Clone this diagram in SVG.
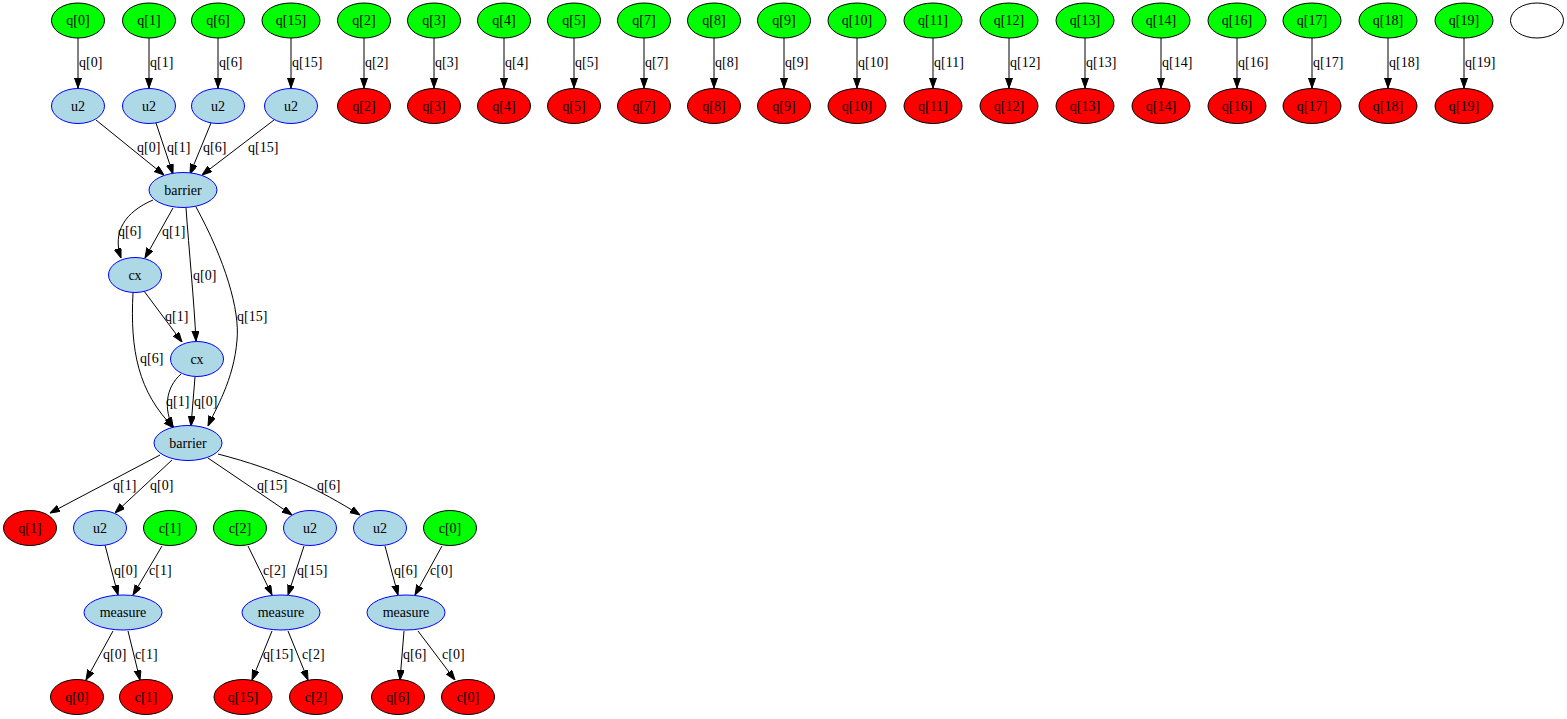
<svg xmlns="http://www.w3.org/2000/svg" width="1567" height="719" viewBox="0 0 1567 719">
<style>
text{font-family:"Liberation Serif","Times New Roman",serif;font-size:14px;fill:#000}
.n text{text-anchor:middle}
.in{fill:#00ff00;stroke:#000;stroke-width:1}
.out{fill:#ff0000;stroke:#000;stroke-width:1}
.op{fill:#add8e6;stroke:#0000ff;stroke-width:1}
.blank{fill:#fff;stroke:#000;stroke-width:1}
.e path{fill:none;stroke:#000;stroke-width:1;marker-end:url(#ah)}
</style>
<defs>
<marker id="ah" markerUnits="userSpaceOnUse" markerWidth="10" markerHeight="8" refX="10" refY="3.5" orient="auto">
<path d="M0,0 L10,3.5 L0,7 z" fill="#000" stroke="#000" stroke-width="1"/>
</marker>
</defs>
<rect width="1567" height="719" fill="#fff"/>
<g id="connectors" class="e">
<path d="M78,38 L78,88"/><text x="79" y="67">q[0]</text>
<path d="M149,38 L149,88"/><text x="150" y="67">q[1]</text>
<path d="M218,38 L218,88"/><text x="219" y="67">q[6]</text>
<path d="M291,38 L291,88"/><text x="292" y="67">q[15]</text>
<path d="M364,38 L364,88"/><text x="365" y="67">q[2]</text>
<path d="M434,38 L434,88"/><text x="435" y="67">q[3]</text>
<path d="M504,38 L504,88"/><text x="505" y="67">q[4]</text>
<path d="M574,38 L574,88"/><text x="575" y="67">q[5]</text>
<path d="M644,38 L644,88"/><text x="645" y="67">q[7]</text>
<path d="M714,38 L714,88"/><text x="715" y="67">q[8]</text>
<path d="M784,38 L784,88"/><text x="785" y="67">q[9]</text>
<path d="M857,38 L857,88"/><text x="858" y="67">q[10]</text>
<path d="M933,38 L933,88"/><text x="934" y="67">q[11]</text>
<path d="M1009,38 L1009,88"/><text x="1010" y="67">q[12]</text>
<path d="M1085,38 L1085,88"/><text x="1086" y="67">q[13]</text>
<path d="M1161,38 L1161,88"/><text x="1162" y="67">q[14]</text>
<path d="M1237,38 L1237,88"/><text x="1238" y="67">q[16]</text>
<path d="M1312,38 L1312,88"/><text x="1313" y="67">q[17]</text>
<path d="M1388,38 L1388,88"/><text x="1389" y="67">q[18]</text>
<path d="M1464,38 L1464,88"/><text x="1465" y="67">q[19]</text>

<path d="M96,120 L164,175"/><text x="137" y="152">q[0]</text>
<path d="M156,123 L173,174"/><text x="167" y="152">q[1]</text>
<path d="M211,123 L190,174"/><text x="203" y="152">q[6]</text>
<path d="M274,120 L202,175"/><text x="248" y="152">q[15]</text>

<path d="M153,200 C125,212 112,232 121,258"/><text x="118" y="236">q[6]</text>
<path d="M173,208 L145,258"/><text x="162" y="236">q[1]</text>
<path d="M186,208 C189,250 194,300 196,341"/><text x="193" y="280">q[0]</text>
<path d="M196,207 C225,260 240,310 237,340 C234,380 215,410 208,426"/><text x="237" y="321">q[15]</text>
<path d="M144,291 L182,342"/><text x="165" y="321">q[1]</text>
<path d="M133,293 C130,350 138,392 174,428"/><text x="140" y="363">q[6]</text>
<path d="M181,374 C165,388 164,410 173,427"/><text x="166" y="406">q[1]</text>
<path d="M195,377 L191,426"/><text x="194" y="406">q[0]</text>

<path d="M160,455 L50,513"/><text x="113" y="490">q[1]</text>
<path d="M172,460 L115,513"/><text x="150" y="490">q[0]</text>
<path d="M208,458 L292,515"/><text x="257" y="490">q[15]</text>
<path d="M218,454 C280,470 320,490 360,515"/><text x="317" y="490">q[6]</text>

<path d="M105,545 L118,595"/><text x="114" y="575">q[0]</text>
<path d="M162,546 L133,595"/><text x="149" y="575">c[1]</text>
<path d="M248,546 L272,595"/><text x="263" y="575">c[2]</text>
<path d="M304,546 L288,595"/><text x="297" y="575">q[15]</text>
<path d="M385,546 L398,595"/><text x="394" y="575">q[6]</text>
<path d="M442,546 L415,595"/><text x="430" y="575">c[0]</text>

<path d="M113,631 L86,680"/><text x="103" y="659">q[0]</text>
<path d="M128,631 L140,680"/><text x="135" y="659">c[1]</text>
<path d="M272,631 L252,680"/><text x="263" y="659">q[15]</text>
<path d="M288,631 L308,680"/><text x="302" y="659">c[2]</text>
<path d="M404,631 L400,680"/><text x="403" y="659">q[6]</text>
<path d="M418,631 L455,680"/><text x="442" y="659">c[0]</text>
</g>

<g id="in_q0" class="n"><ellipse class="in" cx="78" cy="20.5" rx="26.5" ry="17.5"/><text x="78" y="25">q[0]</text></g>
<g id="in_q1" class="n"><ellipse class="in" cx="149" cy="20.5" rx="26.5" ry="17.5"/><text x="149" y="25">q[1]</text></g>
<g id="in_q6" class="n"><ellipse class="in" cx="218" cy="20.5" rx="26.5" ry="17.5"/><text x="218" y="25">q[6]</text></g>
<g id="in_q15" class="n"><ellipse class="in" cx="291" cy="20.5" rx="29" ry="17.5"/><text x="291" y="25">q[15]</text></g>
<g id="in_q2" class="n"><ellipse class="in" cx="364" cy="20.5" rx="26.5" ry="17.5"/><text x="364" y="25">q[2]</text></g>
<g id="in_q3" class="n"><ellipse class="in" cx="434" cy="20.5" rx="26.5" ry="17.5"/><text x="434" y="25">q[3]</text></g>
<g id="in_q4" class="n"><ellipse class="in" cx="504" cy="20.5" rx="26.5" ry="17.5"/><text x="504" y="25">q[4]</text></g>
<g id="in_q5" class="n"><ellipse class="in" cx="574" cy="20.5" rx="26.5" ry="17.5"/><text x="574" y="25">q[5]</text></g>
<g id="in_q7" class="n"><ellipse class="in" cx="644" cy="20.5" rx="26.5" ry="17.5"/><text x="644" y="25">q[7]</text></g>
<g id="in_q8" class="n"><ellipse class="in" cx="714" cy="20.5" rx="26.5" ry="17.5"/><text x="714" y="25">q[8]</text></g>
<g id="in_q9" class="n"><ellipse class="in" cx="784" cy="20.5" rx="26.5" ry="17.5"/><text x="784" y="25">q[9]</text></g>
<g id="in_q10" class="n"><ellipse class="in" cx="857" cy="20.5" rx="29" ry="17.5"/><text x="857" y="25">q[10]</text></g>
<g id="in_q11" class="n"><ellipse class="in" cx="933" cy="20.5" rx="29" ry="17.5"/><text x="933" y="25">q[11]</text></g>
<g id="in_q12" class="n"><ellipse class="in" cx="1009" cy="20.5" rx="29" ry="17.5"/><text x="1009" y="25">q[12]</text></g>
<g id="in_q13" class="n"><ellipse class="in" cx="1085" cy="20.5" rx="29" ry="17.5"/><text x="1085" y="25">q[13]</text></g>
<g id="in_q14" class="n"><ellipse class="in" cx="1161" cy="20.5" rx="29" ry="17.5"/><text x="1161" y="25">q[14]</text></g>
<g id="in_q16" class="n"><ellipse class="in" cx="1237" cy="20.5" rx="29" ry="17.5"/><text x="1237" y="25">q[16]</text></g>
<g id="in_q17" class="n"><ellipse class="in" cx="1312" cy="20.5" rx="29" ry="17.5"/><text x="1312" y="25">q[17]</text></g>
<g id="in_q18" class="n"><ellipse class="in" cx="1388" cy="20.5" rx="29" ry="17.5"/><text x="1388" y="25">q[18]</text></g>
<g id="in_q19" class="n"><ellipse class="in" cx="1464" cy="20.5" rx="29" ry="17.5"/><text x="1464" y="25">q[19]</text></g>
<g id="blank" class="n"><ellipse class="blank" cx="1537" cy="20.5" rx="26.5" ry="17.5"/></g>

<g id="u2_q0" class="n"><ellipse class="op" cx="78" cy="106" rx="26.5" ry="17.5"/><text x="78" y="110.5">u2</text></g>
<g id="u2_q1" class="n"><ellipse class="op" cx="149" cy="106" rx="26.5" ry="17.5"/><text x="149" y="110.5">u2</text></g>
<g id="u2_q6" class="n"><ellipse class="op" cx="218" cy="106" rx="26.5" ry="17.5"/><text x="218" y="110.5">u2</text></g>
<g id="u2_q15" class="n"><ellipse class="op" cx="291" cy="106" rx="26.5" ry="17.5"/><text x="291" y="110.5">u2</text></g>
<g id="out_q2" class="n"><ellipse class="out" cx="364" cy="106" rx="26.5" ry="17.5"/><text x="364" y="110.5">q[2]</text></g>
<g id="out_q3" class="n"><ellipse class="out" cx="434" cy="106" rx="26.5" ry="17.5"/><text x="434" y="110.5">q[3]</text></g>
<g id="out_q4" class="n"><ellipse class="out" cx="504" cy="106" rx="26.5" ry="17.5"/><text x="504" y="110.5">q[4]</text></g>
<g id="out_q5" class="n"><ellipse class="out" cx="574" cy="106" rx="26.5" ry="17.5"/><text x="574" y="110.5">q[5]</text></g>
<g id="out_q7" class="n"><ellipse class="out" cx="644" cy="106" rx="26.5" ry="17.5"/><text x="644" y="110.5">q[7]</text></g>
<g id="out_q8" class="n"><ellipse class="out" cx="714" cy="106" rx="26.5" ry="17.5"/><text x="714" y="110.5">q[8]</text></g>
<g id="out_q9" class="n"><ellipse class="out" cx="784" cy="106" rx="26.5" ry="17.5"/><text x="784" y="110.5">q[9]</text></g>
<g id="out_q10" class="n"><ellipse class="out" cx="857" cy="106" rx="29" ry="17.5"/><text x="857" y="110.5">q[10]</text></g>
<g id="out_q11" class="n"><ellipse class="out" cx="933" cy="106" rx="29" ry="17.5"/><text x="933" y="110.5">q[11]</text></g>
<g id="out_q12" class="n"><ellipse class="out" cx="1009" cy="106" rx="29" ry="17.5"/><text x="1009" y="110.5">q[12]</text></g>
<g id="out_q13" class="n"><ellipse class="out" cx="1085" cy="106" rx="29" ry="17.5"/><text x="1085" y="110.5">q[13]</text></g>
<g id="out_q14" class="n"><ellipse class="out" cx="1161" cy="106" rx="29" ry="17.5"/><text x="1161" y="110.5">q[14]</text></g>
<g id="out_q16" class="n"><ellipse class="out" cx="1237" cy="106" rx="29" ry="17.5"/><text x="1237" y="110.5">q[16]</text></g>
<g id="out_q17" class="n"><ellipse class="out" cx="1312" cy="106" rx="29" ry="17.5"/><text x="1312" y="110.5">q[17]</text></g>
<g id="out_q18" class="n"><ellipse class="out" cx="1388" cy="106" rx="29" ry="17.5"/><text x="1388" y="110.5">q[18]</text></g>
<g id="out_q19" class="n"><ellipse class="out" cx="1464" cy="106" rx="29" ry="17.5"/><text x="1464" y="110.5">q[19]</text></g>

<g id="barrier1" class="n"><ellipse class="op" cx="183" cy="190" rx="34" ry="17.5"/><text x="183" y="194.5">barrier</text></g>
<g id="cx1" class="n"><ellipse class="op" cx="135" cy="275" rx="26.5" ry="17.5"/><text x="135" y="279.5">cx</text></g>
<g id="cx2" class="n"><ellipse class="op" cx="197" cy="359" rx="26.5" ry="17.5"/><text x="197" y="363.5">cx</text></g>
<g id="barrier2" class="n"><ellipse class="op" cx="188" cy="443" rx="34" ry="17.5"/><text x="188" y="447.5">barrier</text></g>

<g id="out_q1" class="n"><ellipse class="out" cx="30" cy="528" rx="26.5" ry="17.5"/><text x="30" y="532.5">q[1]</text></g>
<g id="u2_m0" class="n"><ellipse class="op" cx="100" cy="528" rx="26.5" ry="17.5"/><text x="100" y="532.5">u2</text></g>
<g id="in_c1" class="n"><ellipse class="in" cx="170" cy="528" rx="26.5" ry="17.5"/><text x="170" y="532.5">c[1]</text></g>
<g id="in_c2" class="n"><ellipse class="in" cx="240" cy="528" rx="26.5" ry="17.5"/><text x="240" y="532.5">c[2]</text></g>
<g id="u2_m15" class="n"><ellipse class="op" cx="310" cy="528" rx="26.5" ry="17.5"/><text x="310" y="532.5">u2</text></g>
<g id="u2_m6" class="n"><ellipse class="op" cx="380" cy="528" rx="26.5" ry="17.5"/><text x="380" y="532.5">u2</text></g>
<g id="in_c0" class="n"><ellipse class="in" cx="450" cy="528" rx="26.5" ry="17.5"/><text x="450" y="532.5">c[0]</text></g>

<g id="measure1" class="n"><ellipse class="op" cx="123" cy="612.5" rx="39" ry="17.5"/><text x="123" y="617">measure</text></g>
<g id="measure2" class="n"><ellipse class="op" cx="281" cy="612.5" rx="39" ry="17.5"/><text x="281" y="617">measure</text></g>
<g id="measure3" class="n"><ellipse class="op" cx="406" cy="612.5" rx="39" ry="17.5"/><text x="406" y="617">measure</text></g>

<g id="out_q0" class="n"><ellipse class="out" cx="77" cy="697" rx="26.5" ry="17.5"/><text x="77" y="701.5">q[0]</text></g>
<g id="out_c1" class="n"><ellipse class="out" cx="146" cy="697" rx="26.5" ry="17.5"/><text x="146" y="701.5">c[1]</text></g>
<g id="out_q15" class="n"><ellipse class="out" cx="243" cy="697" rx="29" ry="17.5"/><text x="243" y="701.5">q[15]</text></g>
<g id="out_c2" class="n"><ellipse class="out" cx="316" cy="697" rx="26.5" ry="17.5"/><text x="316" y="701.5">c[2]</text></g>
<g id="out_q6" class="n"><ellipse class="out" cx="398" cy="697" rx="26.5" ry="17.5"/><text x="398" y="701.5">q[6]</text></g>
<g id="out_c0" class="n"><ellipse class="out" cx="468" cy="697" rx="26.5" ry="17.5"/><text x="468" y="701.5">c[0]</text></g>
</svg>
